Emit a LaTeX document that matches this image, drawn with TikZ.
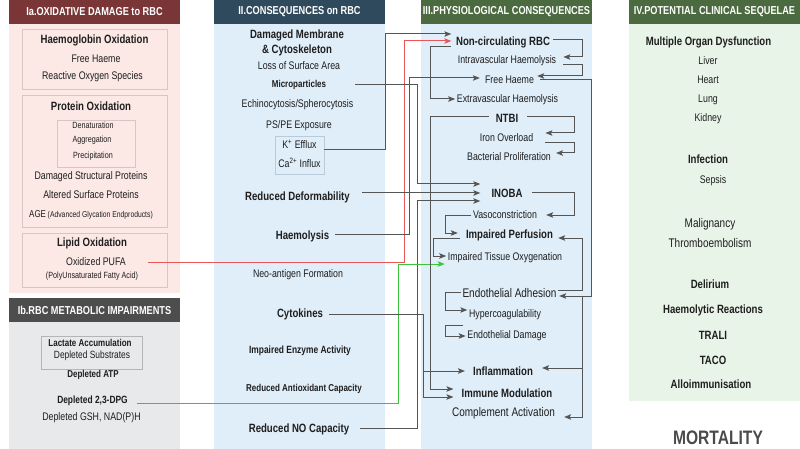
\documentclass[tikz,border=0pt]{standalone}
\usepackage{fontspec}
\setmainfont{Liberation Sans}[FakeStretch=0.8]
\usetikzlibrary{arrows.meta}
\definecolor{iahd}{HTML}{7A3636}
\definecolor{iabg}{HTML}{FCE9E6}
\definecolor{ibhd}{HTML}{4D4D4D}
\definecolor{ibbg}{HTML}{E7E9EB}
\definecolor{iihd}{HTML}{2F4A5D}
\definecolor{bluebg}{HTML}{E0EEF9}
\definecolor{grnhd}{HTML}{4B6A40}
\definecolor{grnbg}{HTML}{E9F4E8}
\definecolor{txtc}{HTML}{1E1E1E}
\definecolor{linec}{HTML}{555555}
\definecolor{redc}{HTML}{E8565A}
\definecolor{grnc}{HTML}{3CC43C}
\definecolor{pinkbox}{HTML}{D9C6C4}
\definecolor{graybox}{HTML}{B5B5B5}
\definecolor{bluebox}{HTML}{B9CAD9}
\definecolor{mortc}{HTML}{4A4A4A}
\begin{document}
\begin{tikzpicture}[x=1pt,y=-1pt,
  base/.style={inner sep=1.5pt,text=txtc},
  tB/.style={base,font=\fontsize{12}{15}\selectfont\bfseries},
  tb/.style={base,font=\fontsize{10}{12}\selectfont\bfseries},
  tbm/.style={base,font=\fontsize{10.5}{12}\selectfont\bfseries},
  tR/.style={base,font=\fontsize{11}{13}\selectfont},
  tr/.style={base,font=\fontsize{9}{11}\selectfont},
  tL/.style={base,font=\fontsize{12.5}{15}\selectfont},
  hdr/.style={inner sep=1pt,text=white,font=\fontsize{11.5}{14}\selectfont\bfseries},
  conn/.style={draw=linec,line width=1pt,-{Stealth[length=7pt,width=5.5pt,inset=1.5pt]}},
  redconn/.style={conn,draw=redc,-{Stealth[length=7pt,width=5.5pt,inset=1.5pt,color=redc]}},
  grnconn/.style={conn,draw=grnc,-{Stealth[length=7pt,width=5.5pt,inset=1.5pt,color=grnc]}},
  pbox/.style={draw=pinkbox,line width=0.7pt},
]
\useasboundingbox (0,0) rectangle (800,449);
% ---------- backgrounds ----------
\fill[iahd] (9,0) rectangle (180,24);
\fill[iabg] (9,24) rectangle (180,293);
\fill[ibhd] (9,298) rectangle (180,322);
\fill[ibbg] (9,322) rectangle (180,449);
\fill[iihd] (214,0) rectangle (385,24);
\fill[bluebg] (214,24) rectangle (385,449);
\fill[grnhd] (421,0) rectangle (592,24);
\fill[bluebg] (421,24) rectangle (592,449);
\fill[grnhd] (629,0) rectangle (800,24);
\fill[grnbg] (629,24) rectangle (800,401);
% ---------- headers ----------
\node[hdr] (h1) at (94.5,12) {Ia.OXIDATIVE DAMAGE to RBC};
\node[hdr] (h1b) at (94.5,310) {Ib.RBC METABOLIC IMPAIRMENTS};
\node[hdr] (h2) at (299.5,12) {II.CONSEQUENCES on RBC};
\node[hdr] (h3) at (506.5,12) {III.PHYSIOLOGICAL CONSEQUENCES};
\node[hdr] (h4) at (714.5,12) {IV.POTENTIAL CLINICAL SEQUELAE};
% ---------- column Ia ----------
\draw[pbox] (22,29) rectangle (167,89);
\draw[pbox] (22,95) rectangle (167,227);
\draw[pbox] (57,120) rectangle (135,167);
\draw[pbox] (22,233) rectangle (167,287);
\node[tB] (hbo) at (94.5,40) {Haemoglobin Oxidation};
\node[tR] (fh1) at (96,59) {Free Haeme};
\node[tR] (ros) at (92.5,77) {Reactive Oxygen Species};
\node[tB] (pro) at (91,106) {Protein Oxidation};
\node[tr] (den) at (93,125) {Denaturation};
\node[tr] (agg) at (92,140) {Aggregation};
\node[tr] (pre) at (93,156) {Precipitation};
\node[tR] (dsp) at (91,177) {Damaged Structural Proteins};
\node[tR] (asp) at (91,195) {Altered Surface Proteins};
\node[base] (age) at (91,215) {\fontsize{10}{12}\selectfont AGE\,\fontsize{8.5}{10}\selectfont(Advanced Glycation Endproducts)};
\node[tB] (lip) at (92,243) {Lipid Oxidation};
\node[tR] (pufa) at (96,262) {Oxidized PUFA};
\node[tr] (pufb) at (92,276) {(PolyUnsaturated Fatty Acid)};
% ---------- column Ib ----------
\draw[draw=graybox,line width=0.7pt] (41,336) rectangle (142,369);
\node[tb] (lac) at (90,343) {Lactate Accumulation};
\node[base,font=\fontsize{10.5}{12}\selectfont] (dsub) at (92,356) {Depleted Substrates};
\node[tb] (atp) at (93,375) {Depleted ATP};
\node[tbm] (dpg) at (92.5,401) {Depleted 2,3-DPG};
\node[tR] (gsh) at (91.5,418) {Depleted GSH, NAD(P)H};
% ---------- column II ----------
\node[tB,align=center] (dmc) at (297,42.5) {Damaged Membrane\\\& Cytoskeleton};
\node[tR] (lsa) at (299,66) {Loss of Surface Area};
\node[tb] (mp) at (299,85) {Microparticles};
\node[tR] (ech) at (297.5,105) {Echinocytosis/Spherocytosis};
\node[tR] (ps) at (299,126) {PS/PE Exposure};
\node[draw=bluebox,line width=0.7pt,minimum width=49pt,minimum height=38pt,inner sep=0pt] (kbox) at (299.5,155) {};
\node[tR] (kef) at (299.5,144) {K\textsuperscript{+} Efflux};
\node[tR] (cai) at (299.5,163) {Ca\textsuperscript{2+} Influx};
\node[tB] (rd) at (297.5,197) {Reduced Deformability};
\node[tB] (hae) at (302.5,236) {Haemolysis};
\node[tR] (neo) at (298,275) {Neo-antigen Formation};
\node[tB] (cyt) at (300,314) {Cytokines};
\node[tbm] (iea) at (300,351) {Impaired Enzyme Activity};
\node[tb] (rac) at (304,389) {Reduced Antioxidant Capacity};
\node[tB] (rno) at (299,429) {Reduced NO Capacity};
% ---------- column III ----------
\node[tB] (ncr) at (503,42) {Non-circulating RBC};
\node[tR] (ivh) at (507,61) {Intravascular Haemolysis};
\node[tR] (fh) at (509.5,80) {Free Haeme};
\node[tR] (evh) at (507.5,100) {Extravascular Haemolysis};
\node[tB] (ntbi) at (507,118) {NTBI};
\node[tR] (io) at (506.5,138) {Iron Overload};
\node[tR] (bp) at (509,157) {Bacterial Proliferation};
\node[tB] (inoba) at (507,193) {INOBA};
\node[tR] (vc) at (505,215) {Vasoconstriction};
\node[tB] (ip) at (509.5,235) {Impaired Perfusion};
\node[tR] (ito) at (505,258) {Impaired Tissue Oxygenation};
\node[tL] (ea) at (509.5,293) {Endothelial Adhesion};
\node[tR] (hc) at (505,315) {Hypercoagulability};
\node[tR] (ed) at (507,336) {Endothelial Damage};
\node[tB] (inf) at (503,371) {Inflammation};
\node[tB] (im) at (507,393) {Immune Modulation};
\node[tL] (cpa) at (503.5,413) {Complement Activation};
% ---------- column IV ----------
\node[tB] (mod) at (708.5,42) {Multiple Organ Dysfunction};
\node[tR] (liv) at (708,61) {Liver};
\node[tR] (hea) at (708,80) {Heart};
\node[tR] (lun) at (708,100) {Lung};
\node[tR] (kid) at (708,119) {Kidney};
\node[tB] (infc) at (708,159) {Infection};
\node[tR] (sep) at (713,181) {Sepsis};
\node[tL] (mal) at (710,224) {Malignancy};
\node[tL] (thr) at (710,243) {Thromboembolism};
\node[tB] (del) at (710,284) {Delirium};
\node[tB] (hr) at (713,310) {Haemolytic Reactions};
\node[tB] (trali) at (713,335) {TRALI};
\node[tB] (taco) at (713,360) {TACO};
\node[tB] (allo) at (711,384) {Alloimmunisation};
\node[base,text=mortc,font=\fontsize{19.5}{22}\selectfont\bfseries] (mort) at (718,438) {MORTALITY};
% ---------- connectors II -> III ----------
\draw[conn] ([yshift=5pt]kbox.east) -- (385,150) -- (385,34) -- ([xshift=-3pt,yshift=8pt]ncr.west);
\draw[redconn] ([xshift=20pt]pufa.east) -- (404,262) -- (404,41) -- ([xshift=-3pt,yshift=1pt]ncr.west);
\draw[conn] ([xshift=4.5pt,yshift=2pt]hae.east) -- (409,234) -- (409,78) -- ([xshift=-3.5pt,yshift=2pt]fh.west);
\draw[conn] ([xshift=27.5pt]mp.east) -- (417,85) -- (417,184) -- ([xshift=-9.5pt,yshift=9pt]inoba.west);
\draw[conn] ([xshift=10.5pt,yshift=4pt]rd.east) -- ([xshift=-9.5pt]inoba.west);
\draw[conn] ([xshift=9.5pt,yshift=1pt]rno.east) -- (417,428) -- (417,201) -- ([xshift=-9.5pt,yshift=-8pt]inoba.west);
\draw[grnconn] ([xshift=7.5pt,yshift=-2pt]dpg.east) -- (398,403) -- (398,264) -- ([xshift=-1.5pt,yshift=-6pt]ito.west);
\coordinate (cj) at (423,371);
\draw[conn] ([xshift=4.5pt]cyt.east) -- (423,314) -- (423,397) -- ([xshift=-6.5pt,yshift=-4pt]im.west);
\draw[conn] (cj) -- ([xshift=-6.5pt]inf.west);
% ---------- connectors within III ----------
\draw[conn] ([xshift=-5.5pt,yshift=1pt]ntbi.west) -- (430,117) -- (430,389) -- ([xshift=-6.5pt,yshift=4pt]im.west);
\draw[conn] ([xshift=-3.5pt,yshift=-5pt]ncr.west) -- (430,47) -- (430,99) -- ([yshift=1pt]evh.west);
\draw[conn] ([xshift=1.5pt,yshift=2pt]ncr.east) -- (582,40) -- (582,57) -- ([xshift=5.5pt,yshift=4pt]ivh.east);
\draw[conn] ([xshift=5.5pt,yshift=-4pt]ivh.east) -- (582,65) -- (582,76) -- ([xshift=1.5pt,yshift=4pt]fh.east);
\draw[conn] ([xshift=7.5pt,yshift=1pt]ntbi.east) -- (574,117) -- (574,133) -- ([xshift=10.5pt,yshift=5pt]io.east);
\draw[conn] ([xshift=10pt,yshift=-5pt]io.east) -- (574,143) -- (574,153) -- ([xshift=3.5pt,yshift=4pt]bp.east);
\draw[conn] ([xshift=7.5pt]inoba.east) -- (574,193) -- (574,215) -- ([xshift=7.5pt]vc.east);
\draw[conn] (vc.west) -- (445,215) -- (445,233) -- ([xshift=-6.5pt,yshift=2pt]ip.west);
\draw[conn] ([xshift=-4.5pt,yshift=-3pt]ip.west) -- (433,238) -- (433,256) -- ([yshift=2pt]ito.west);
\draw[conn] ([yshift=3pt]ea.east) -- (582,290) -- (582,238) -- ([xshift=3.5pt,yshift=-3pt]ip.east);
\draw[conn] ([yshift=1pt]ea.west) -- (445,292) -- (445,310) -- ([yshift=5pt]hc.west);
\draw[conn] ([xshift=-4pt,yshift=-10pt]hc.west) -- (445,325) -- (445,336) -- (ed.west);
\coordinate (fj) at (582,296);
\coordinate (fk) at (582,368);
\draw[conn] ([xshift=4.5pt]fh.east) -- (591,80) -- (591,296) -- ([xshift=1pt,yshift=-3pt]ea.east);
\draw[conn] (fj) -- (582,417) -- ([xshift=7.5pt,yshift=-4pt]cpa.east);
\draw[conn] (fk) -- ([xshift=7.5pt,yshift=3pt]inf.east);
\end{tikzpicture}
\end{document}
